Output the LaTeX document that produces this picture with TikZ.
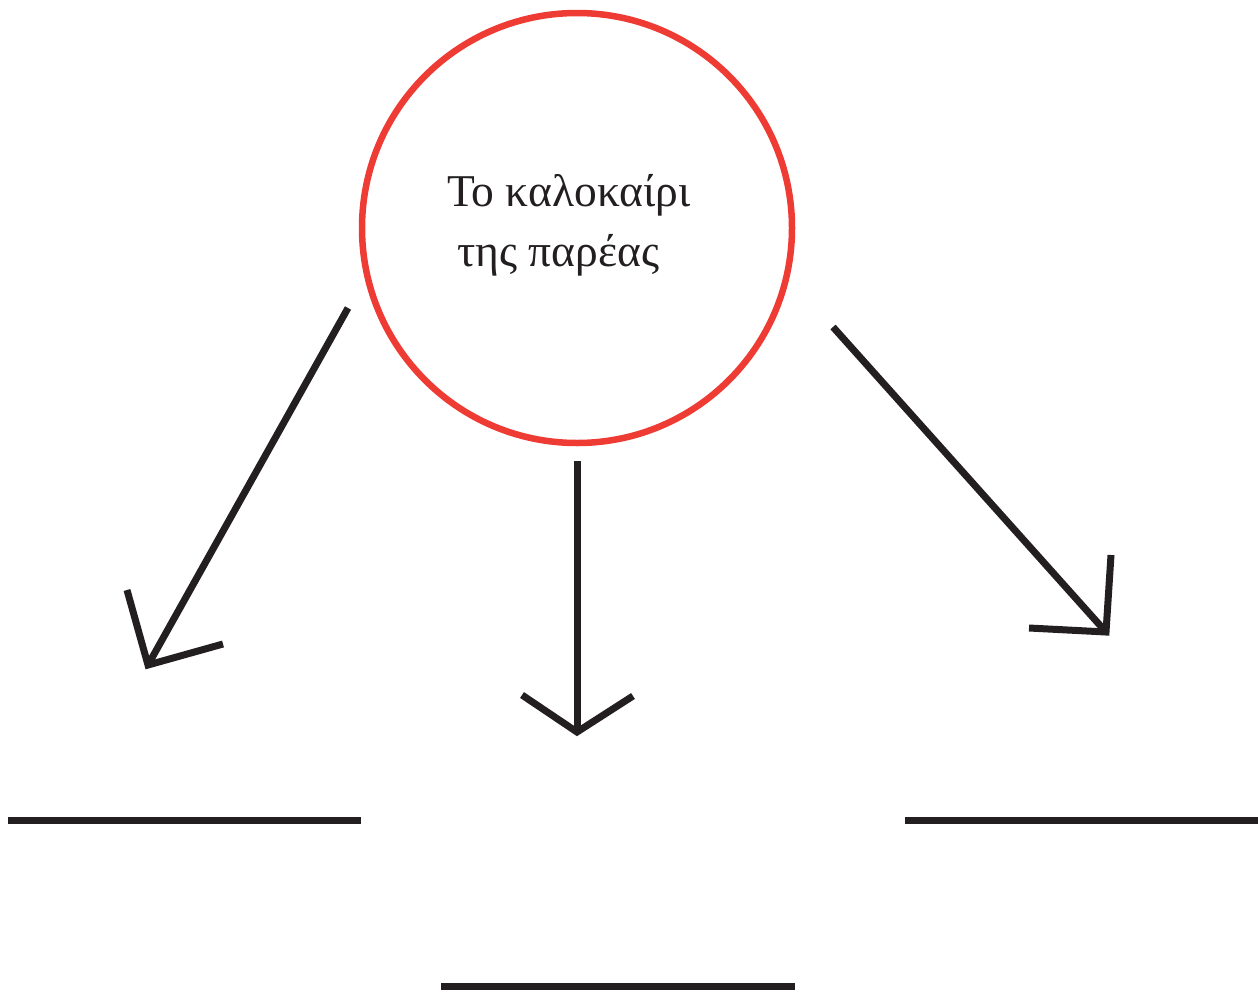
\documentclass[tikz,border=0pt]{standalone}
\usepackage{fontspec}
\setmainfont{Liberation Serif}
\definecolor{inkdark}{HTML}{231F20}
\definecolor{ringred}{HTML}{EE3B33}
\begin{document}
\begin{tikzpicture}[x=1pt,y=-1pt,
  stroke/.style={draw=inkdark,line width=7pt,line cap=butt},
  headline/.style={draw=inkdark,line width=7pt,line cap=butt,line join=miter},
  label/.style={font=\fontsize{45.5}{50}\selectfont,text=inkdark,inner sep=0pt,anchor=base west}]
\useasboundingbox (0,0) rectangle (1258,991);
\node[circle,draw=ringred,line width=6.5pt,minimum size=430pt,inner sep=0pt] (topic) at (577,228) {};
\node[label] (t1) at (447,206) {Το καλοκαίρι};
\node[label] (t2) at (457,266) {της παρέας};
% left arrow
\coordinate (ls) at (348,308);
\coordinate (le) at (148,665);
\coordinate (la) at (127,590);
\coordinate (lb) at (223,644);
\draw[stroke] (ls) -- (le);
\draw[headline] (la) -- (le) -- (lb);
% middle arrow
\coordinate (ms) at (577,461);
\coordinate (me) at (577,732);
\coordinate (ma) at (522,695);
\coordinate (mb) at (633,696);
\draw[stroke] (ms) -- (me);
\draw[headline] (ma) -- (me) -- (mb);
% right arrow
\coordinate (rs) at (833,327);
\coordinate (re) at (1106,632);
\coordinate (ra) at (1111,555);
\coordinate (rb) at (1029,628);
\draw[stroke] (rs) -- (re);
\draw[headline] (ra) -- (re) -- (rb);
% blank lines
\coordinate (l1a) at (8,820); \coordinate (l1b) at (361,820);
\coordinate (l2a) at (905,820); \coordinate (l2b) at (1258,820);
\coordinate (l3a) at (441,986); \coordinate (l3b) at (795,986);
\draw[stroke] (l1a) -- (l1b);
\draw[stroke] (l2a) -- (l2b);
\draw[stroke] (l3a) -- (l3b);
\end{tikzpicture}
\end{document}
